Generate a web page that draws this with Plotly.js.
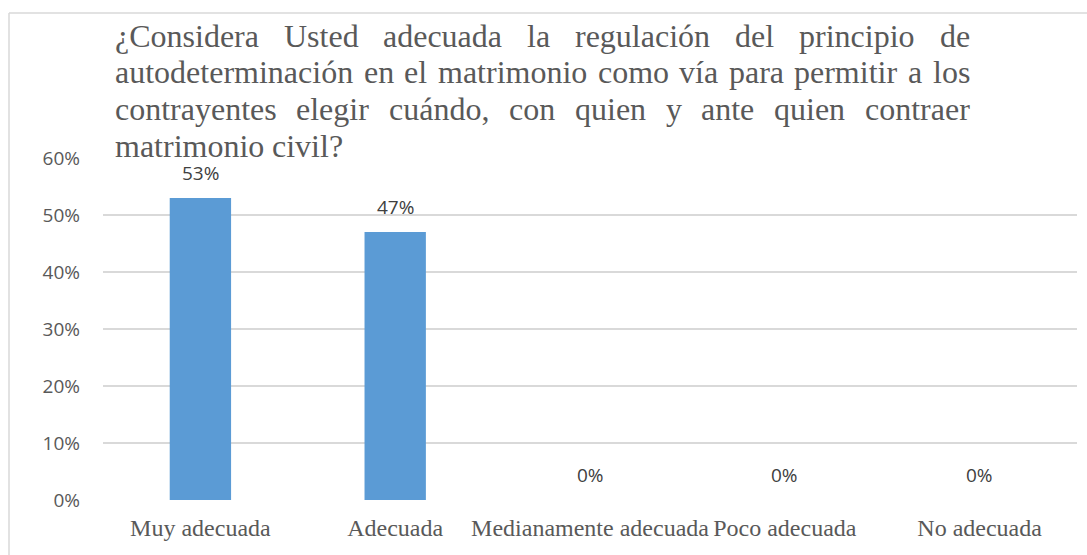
<!DOCTYPE html>
<html>
<head>
<meta charset="utf-8">
<script src="https://cdn.plot.ly/plotly-3.0.1.min.js"></script>
<style>
html,body{margin:0;padding:0;background:#fff;}
#chart{width:1087px;height:555px;}
</style>
</head>
<body>
<div id="chart"></div>
<script>
// ---- data ----
const categories = ["Muy adecuada", "Adecuada", "Medianamente adecuada", "Poco adecuada", "No adecuada"];
const values = [0.53, 0.47, 0, 0, 0];
const valueLabels = ["53%", "47%", "0%", "0%", "0%"];
const yTickVals = [0, 0.1, 0.2, 0.3, 0.4, 0.5, 0.6];
const yTickText = ["0%", "10%", "20%", "30%", "40%", "50%", "60%"];
const titleLines = [
  "¿Considera Usted adecuada la regulación del principio de",
  "autodeterminación en el matrimonio como vía para permitir a los",
  "contrayentes elegir cuándo, con quien y ante quien contraer",
  "matrimonio civil?"
];

// ---- layout geometry (pixels) ----
const W = 1087, H = 555;
const M = {l: 103, r: 10, t: 158, b: 55};
const PW = W - M.l - M.r, PH = H - M.t - M.b;
const px2x = p => (p - M.l) / PW;
const py2y = p => (H - M.b - p) / PH;

const titleFont = "Liberation Serif, serif";
const titleSize = 32;
const titleLeft = 115, titleRight = 970;
const titleBaselines = [47, 83, 120, 157];

const cvs = document.createElement("canvas");
const ctx = cvs.getContext("2d");
ctx.font = titleSize + "px 'Liberation Serif'";

const annotations = [];

// justified title, word by word
titleLines.forEach((line, li) => {
  const words = line.split(" ");
  const widths = words.map(w => ctx.measureText(w).width);
  const total = widths.reduce((a, b) => a + b, 0);
  const last = li === titleLines.length - 1;
  const gap = last ? ctx.measureText(" ").width : (titleRight - titleLeft - total) / (words.length - 1);
  let x = titleLeft;
  words.forEach((w, i) => {
    annotations.push({
      xref: "paper", yref: "paper",
      x: px2x(x - 1), y: py2y(titleBaselines[li] - titleSize * 0.33),
      xanchor: "left", yanchor: "middle",
      text: w, showarrow: false, borderpad: 0,
      font: {family: titleFont, size: titleSize, color: "#595959"}
    });
    x += widths[i] + gap;
  });
});

// value labels above bars
categories.forEach((c, i) => {
  annotations.push({
    x: c, y: values[i], xref: "x", yref: "y",
    text: valueLabels[i], showarrow: false,
    yanchor: "middle", yshift: 25,
    font: {family: "Open Sans, sans-serif", size: 19, color: "#404040"}
  });
});

const trace = {
  type: "bar",
  x: categories,
  y: values,
  marker: {color: "#5B9BD5"},
  hoverinfo: "none"
};

const layout = {
  width: W, height: H,
  margin: M,
  paper_bgcolor: "#ffffff",
  plot_bgcolor: "#ffffff",
  showlegend: false,
  bargap: 0.685,
  xaxis: {
    type: "category",
    tickangle: 0,
    showgrid: false, zeroline: false, showline: false,
    ticks: "",
    ticklabelstandoff: 11,
    tickfont: {family: "Liberation Serif, serif", size: 24, color: "#595959"}
  },
  yaxis: {
    range: [0, 0.6],
    tickvals: yTickVals,
    ticktext: yTickText,
    showgrid: true, gridcolor: "#D9D9D9", gridwidth: 1.5,
    zeroline: false, showline: false,
    ticks: "",
    ticklabelstandoff: 22,
    tickfont: {family: "Open Sans, sans-serif", size: 19, color: "#595959"}
  },
  annotations: annotations,
  shapes: [
    {type: "line", xref: "paper", yref: "paper", x0: px2x(9), x1: px2x(9), y0: py2y(13), y1: py2y(560),
     line: {color: "#D9D9D9", width: 1.5}},
    {type: "line", xref: "paper", yref: "paper", x0: px2x(9), x1: px2x(1090), y0: py2y(13), y1: py2y(13),
     line: {color: "#D9D9D9", width: 1.5}}
  ]
};

Plotly.newPlot("chart", [trace], layout, {displayModeBar: false, staticPlot: true});
</script>
</body>
</html>
